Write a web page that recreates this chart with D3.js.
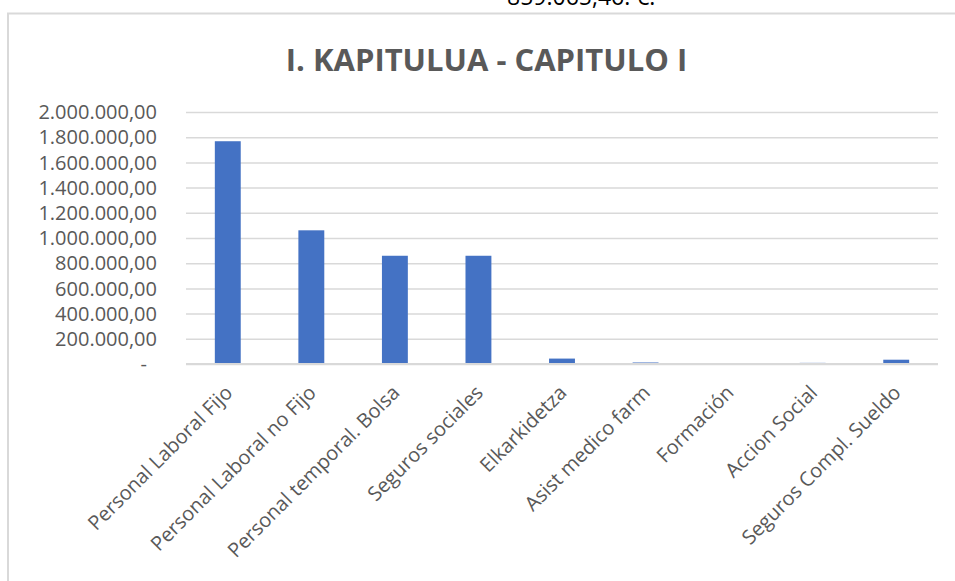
<!DOCTYPE html>
<html>
<head>
<meta charset="utf-8">
<script src="https://cdn.jsdelivr.net/npm/d3@7"></script>
<style>
  html, body { margin: 0; padding: 0; background: #fff; overflow: hidden; }
  svg { display: block; font-family: 'Open Sans', sans-serif; }
</style>
</head>
<body>
<svg id="chart"></svg>
<script>
const categories = [
    'Personal Laboral Fijo',
    'Personal Laboral no Fijo',
    'Personal temporal. Bolsa',
    'Seguros sociales',
    'Elkarkidetza',
    'Asist medico farm',
    'Formación',
    'Accion Social',
    'Seguros Compl. Sueldo'
]
const values = [1768000, 1061000, 859065.46, 859065.46, 43000, 12000, 0, 9000, 34000]
const yTicks = [0, 200000, 400000, 600000, 800000, 1000000, 1200000, 1400000, 1600000, 1800000, 2000000]
const chartTitle = 'I. KAPITULUA - CAPITULO I'
const topNote = '859.065,46. €.'

const width = 955
const height = 581
const margin = { top: 112, right: 17, bottom: 217, left: 186 }

const svg = d3.select('#chart').attr('width', width).attr('height', height)

// chart frame (runs off the right and bottom edge)
svg.append('rect')
    .attr('x', 8)
    .attr('y', 13.5)
    .attr('width', 1000)
    .attr('height', 700)
    .attr('fill', '#fff')
    .attr('stroke', '#d9d9d9')
    .attr('stroke-width', 2)

// clipped text sitting above the frame
svg.append('text')
    .attr('x', 507)
    .attr('y', 5)
    .style('font-size', '23px')
    .style('fill', '#000')
    .text(topNote)

svg.append('text')
    .attr('x', 486.5)
    .attr('y', 70.5)
    .attr('text-anchor', 'middle')
    .style('font-size', '31px')
    .style('font-weight', 'bold')
    .style('fill', '#595959')
    .text(chartTitle)

const xScale = d3.scaleBand()
    .domain(categories)
    .range([margin.left, width - margin.right])
    .paddingInner(0.69)
    .paddingOuter(0.345)

const xBand = d3.scaleBand()
    .domain(categories)
    .range([margin.left, width - margin.right])

const yScale = d3.scaleLinear()
    .domain([0, 2000000])
    .range([height - margin.bottom, margin.top])

const fmt = (v) => {
    if (v === 0) return '-'
    const s = d3.format(',.2f')(v)
    return s.replace(/,/g, '#').replace('.', ',').replace(/#/g, '.')
}

// gridlines
svg.append('g')
    .attr('transform', 'translate(' + margin.left + ',0)')
    .call(d3.axisLeft(yScale)
        .tickValues(yTicks)
        .tickSize(-(width - margin.left - margin.right))
        .tickFormat(''))
    .call((g) => g.select('.domain').remove())
    .selectAll('line')
    .attr('stroke', '#d9d9d9')
    .attr('stroke-width', 1.5)

// y labels
svg.append('g')
    .selectAll('text')
    .data(yTicks)
    .enter()
    .append('text')
    .attr('x', (d) => (d === 0 ? 147 : 157))
    .attr('y', (d) => yScale(d))
    .attr('dy', '0.36em')
    .attr('text-anchor', 'end')
    .style('font-size', '20px')
    .style('fill', '#595959')
    .text(fmt)

// bars
svg.append('g')
    .selectAll('rect')
    .data(values)
    .enter()
    .append('rect')
    .attr('x', (d, i) => xScale(categories[i]))
    .attr('y', (d) => yScale(d))
    .attr('width', xScale.bandwidth())
    .attr('height', (d) => yScale(0) - yScale(d))
    .attr('fill', '#4472c4')

// zero axis line
svg.append('line')
    .attr('x1', margin.left)
    .attr('x2', width - margin.right)
    .attr('y1', yScale(0))
    .attr('y2', yScale(0))
    .attr('stroke', '#d9d9d9')
    .attr('stroke-width', 2)

// category labels, rotated
svg.append('g')
    .selectAll('text')
    .data(categories)
    .enter()
    .append('text')
    .attr('transform', (d) => {
        const cx = xBand(d) + xBand.bandwidth() / 2 - 4
        return 'translate(' + cx + ',' + (yScale(0) + 20) + ') rotate(-45)'
    })
    .attr('text-anchor', 'end')
    .attr('dy', '0.7em')
    .style('font-size', '20px')
    .style('fill', '#595959')
    .text((d) => d)
</script>
</body>
</html>
